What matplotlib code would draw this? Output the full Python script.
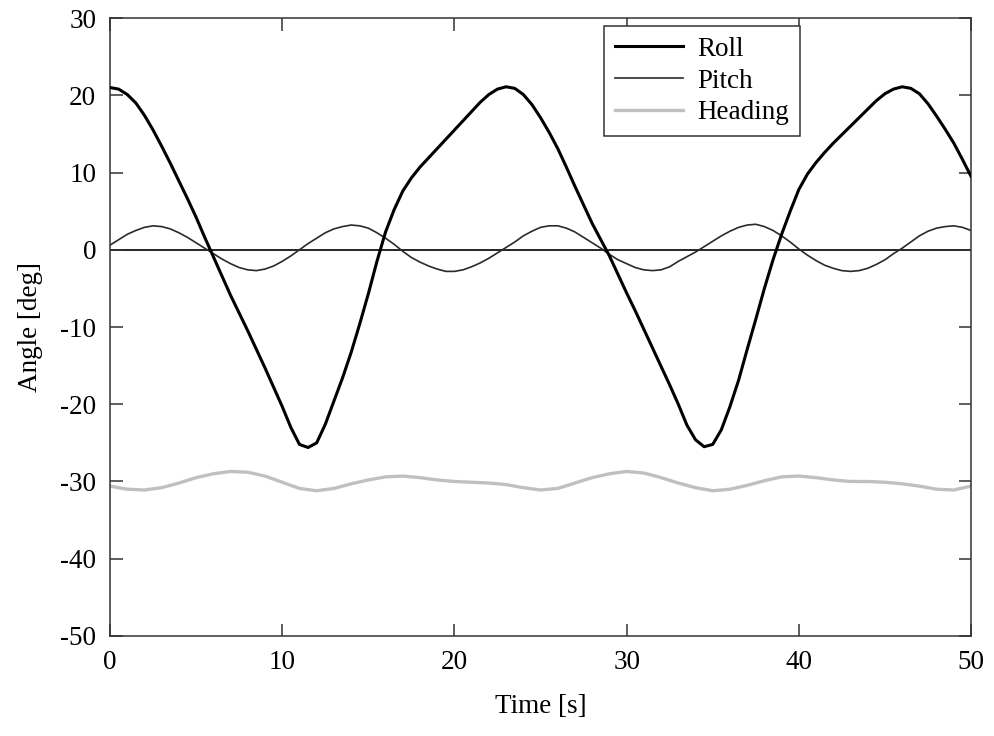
import numpy as np
import matplotlib
matplotlib.use("Agg")
import matplotlib.pyplot as plt

# sample times [s] (0.5 s for roll/pitch, 1 s for heading)
t_fast = np.linspace(0, 50, 101)
t_slow = np.linspace(0, 50, 51)

roll = [
    21.0, 20.8, 20.1, 19.0, 17.4, 15.5, 13.4, 11.2, 8.9, 6.6,
    4.2, 1.6, -0.9, -3.4, -5.9, -8.2, -10.5, -12.9, -15.3, -17.8,
    -20.3, -23.0, -25.2, -25.6, -25.0, -22.6, -19.6, -16.6, -13.3, -9.6,
    -5.7, -1.5, 2.3, 5.2, 7.6, 9.3, 10.7, 11.9, 13.1, 14.3,
    15.5, 16.7, 17.9, 19.1, 20.1, 20.8, 21.1, 20.9, 20.1, 18.8,
    17.1, 15.2, 13.1, 10.7, 8.2, 5.8, 3.4, 1.3, -0.8, -3.2,
    -5.6, -7.9, -10.3, -12.7, -15.1, -17.5, -20.0, -22.7, -24.6, -25.5,
    -25.2, -23.3, -20.3, -16.9, -12.9, -9.0, -5.0, -1.3, 2.0, 5.0,
    7.8, 9.8, 11.3, 12.6, 13.8, 14.9, 16.0, 17.1, 18.2, 19.3,
    20.2, 20.8, 21.1, 20.9, 20.2, 18.9, 17.3, 15.6, 13.8, 11.7,
    9.5,
]

pitch = [
    0.6, 1.3, 2.0, 2.5, 2.9, 3.1, 3.0, 2.7, 2.2, 1.6,
    0.9, 0.2, -0.5, -1.2, -1.8, -2.3, -2.6, -2.7, -2.5, -2.1,
    -1.5, -0.8, 0.0, 0.8, 1.5, 2.2, 2.7, 3.0, 3.2, 3.1,
    2.8, 2.2, 1.5, 0.7, -0.2, -1.0, -1.6, -2.1, -2.5, -2.8,
    -2.8, -2.6, -2.2, -1.7, -1.1, -0.4, 0.3, 1.0, 1.8, 2.4,
    2.9, 3.1, 3.1, 2.8, 2.3, 1.6, 0.9, 0.2, -0.6, -1.3,
    -1.8, -2.3, -2.6, -2.7, -2.6, -2.2, -1.5, -0.9, -0.3, 0.4,
    1.1, 1.8, 2.4, 2.9, 3.2, 3.3, 3.0, 2.5, 1.8, 1.0,
    0.1, -0.7, -1.4, -2.0, -2.4, -2.7, -2.8, -2.7, -2.4, -1.9,
    -1.3, -0.5, 0.2, 1.0, 1.8, 2.4, 2.8, 3.0, 3.1, 2.9,
    2.5,
]

heading = [
    -30.6, -31.0, -31.1, -30.8, -30.2, -29.5, -29.0, -28.7, -28.8, -29.3,
    -30.1, -30.9, -31.2, -30.9, -30.3, -29.8, -29.4, -29.3, -29.5, -29.8,
    -30.0, -30.1, -30.2, -30.4, -30.8, -31.1, -30.9, -30.2, -29.5, -29.0,
    -28.7, -28.9, -29.5, -30.2, -30.8, -31.2, -31.0, -30.5, -29.9, -29.4,
    -29.3, -29.5, -29.8, -30.0, -30.0, -30.1, -30.3, -30.6, -31.0, -31.1,
    -30.6,
]

x_ticks = [0, 10, 20, 30, 40, 50]
y_ticks = [-50, -40, -30, -20, -10, 0, 10, 20, 30]

plt.rcParams["font.family"] = ["Liberation Serif", "DejaVu Serif"]
plt.rcParams["font.size"] = 19.5
plt.rcParams["axes.unicode_minus"] = False

fig = plt.figure(figsize=(9.94, 7.36), dpi=100)
ax = fig.add_axes([0.1107, 0.1359, 0.8662, 0.8396])

ax.axhline(0, color="black", lw=1.2, zorder=1)
ax.plot(t_fast, roll, color="black", lw=2.2, label="Roll", zorder=3)
ax.plot(t_fast, pitch, color="#2a2a2a", lw=1.2, label="Pitch", zorder=2)
ax.plot(t_slow, heading, color="#c0c0c0", lw=2.4, label="Heading", zorder=2)

ax.set_xlim(0, 50)
ax.set_ylim(-50, 30)
ax.set_xticks(x_ticks)
ax.set_yticks(y_ticks)
ax.tick_params(direction="in", length=9, width=1.1, top=True, right=True,
               pad=10, color="#333333")
for s in ax.spines.values():
    s.set_linewidth(1.1)
    s.set_color("#333333")

ax.set_xlabel("Time [s]", labelpad=14)
ax.set_ylabel("Angle [deg]", labelpad=12)

leg = ax.legend(loc="upper left", bbox_to_anchor=(0.574, 0.987),
                borderaxespad=0, fancybox=False, framealpha=1,
                edgecolor="#333333", handlelength=2.5, handletextpad=0.55,
                labelspacing=0.25, borderpad=0.4)
leg.get_frame().set_linewidth(1.1)

fig.savefig("out.png", dpi=100)
